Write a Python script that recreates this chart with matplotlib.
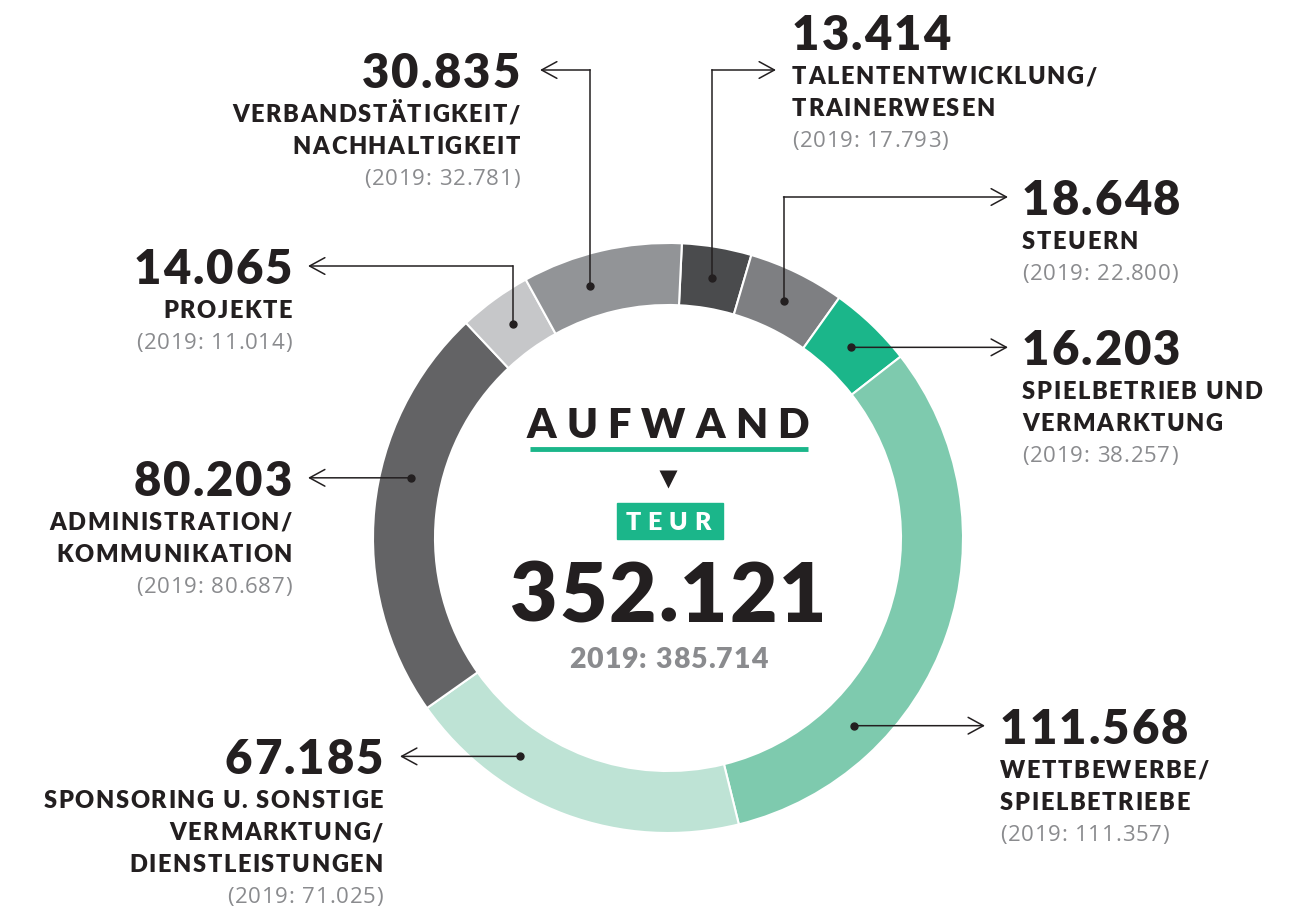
import numpy as np
import matplotlib
matplotlib.use("Agg")
import matplotlib.pyplot as plt

plt.rcParams['font.family'] = ['Lato', 'DejaVu Sans']

# ── data ──
values = [13414, 18648, 16203, 111568, 67185, 80203, 14065, 30835]
values_2019 = [17793, 22800, 38257, 111357, 71025, 80687, 11014, 32781]
labels = [["TALENTENTWICKLUNG/", "TRAINERWESEN"],
          ["STEUERN"],
          ["SPIELBETRIEB UND", "VERMARKTUNG"],
          ["WETTBEWERBE/", "SPIELBETRIEBE"],
          ["SPONSORING U. SONSTIGE", "VERMARKTUNG/", "DIENSTLEISTUNGEN"],
          ["ADMINISTRATION/", "KOMMUNIKATION"],
          ["PROJEKTE"],
          ["VERBANDSTÄTIGKEIT/", "NACHHALTIGKEIT"]]
colors = ["#4a4b4d", "#7e7f82", "#1bb68a", "#7ecaae", "#bee3d5", "#636365", "#c6c7c9", "#929497"]
total_2019 = 385714

def de(n):
    return f"{n:,}".replace(",", ".")

# ── layout (pixel coords, y down) ──
W, H = 1306, 908
CX, CY, R, RING = 668, 538, 295, 62
GREEN = "#1bb68a"
DARK = "#231f20"
GREY = "#8a8b8e"
# dot position inside wedge (0=start,1=end), connector, line y, arrow tip x, text x, side, number above line?
layout = [
    (0.50, "v", 70, 776, 792, "right", True),
    (0.50, "v", 197, 1008, 1022, "right", False),
    (0.50, "h", None, 1008, 1022, "right", False),
    (0.73, "h", None, 985, 1000, "right", False),
    (0.70, "h", None, 400, 383, "left", False),
    (0.59, "h", None, 308, 292, "left", False),
    (0.50, "v", 266, 308, 292, "left", False),
    (0.37, "v", 70, 540, 520, "left", False),
]

fig = plt.figure(figsize=(W / 100, H / 100), dpi=100)
ax = fig.add_axes([0, 0, 1, 1])
renderer = fig.canvas.get_renderer()

def tracked(x, y, s, track, ha="left", **kw):
    ts = [ax.text(0, y, ch, ha="left", va="center_baseline", **kw) for ch in s]
    ws = [t.get_window_extent(renderer).width for t in ts]
    tot = sum(ws) + track * (len(s) - 1)
    x0 = {"left": x, "right": x - tot, "center": x - tot / 2}[ha]
    for t, w_ in zip(ts, ws):
        t.set_x(x0)
        x0 += w_ + track

wedges, _ = ax.pie(values, colors=colors, startangle=-87.3, counterclock=True,
                   center=(CX, CY), radius=R,
                   wedgeprops=dict(width=RING, edgecolor="white", linewidth=1.5))
ax.set_xlim(0, W)
ax.set_ylim(H, 0)
ax.set_aspect("equal")
ax.axis("off")

rmid = R - RING / 2
for i, w in enumerate(wedges):
    frac, kind, ly, tipx, tx, side, above = layout[i]
    ang = np.deg2rad(w.theta1 + frac * (w.theta2 - w.theta1))
    dx, dy = CX + rmid * np.cos(ang), CY + rmid * np.sin(ang)
    ax.plot(dx, dy, "o", color=DARK, ms=5, zorder=5)
    if kind == "v":
        ax.plot([dx, dx], [dy, ly], color=DARK, lw=1.1)
        start = (dx, ly)
    else:
        ly = dy
        start = (dx, dy)
    ax.annotate("", xy=(tipx, ly), xytext=start,
                arrowprops=dict(arrowstyle="->,head_length=0.55,head_width=0.3",
                                color=DARK, lw=1.1, shrinkA=0, shrinkB=0, mutation_scale=20))
    ha = "left" if side == "right" else "right"
    ny = ly - 38 if above else ly
    tracked(tx, ny, de(values[i]), 2, ha=ha, fontsize=34, fontweight="heavy", color=DARK)
    yy = ly + 5 if above else ny + 43
    for line in labels[i]:
        tracked(tx, yy, line, 1.6, ha=ha, fontsize=17, fontweight="heavy", color=DARK)
        yy += 32
    tracked(tx, yy, f"(2019: {de(values_2019[i])})", 0.8, ha=ha,
            fontsize=16, family=["Open Sans", "DejaVu Sans"], fontweight="normal", color=GREY)

# ── centre block ──
tracked(CX, 423, "AUFWAND", 10, ha="center", fontsize=30, fontweight="heavy", color=DARK)
ax.plot([530, 808], [449, 449], color=GREEN, lw=3.5, solid_capstyle="butt")
ax.plot(CX, 479, marker="v", color=DARK, ms=13, mec="none")
ax.add_patch(plt.Rectangle((617, 503), 106, 36, color=GREEN))
tracked(CX, 521, "TEUR", 7, ha="center", fontsize=18, fontweight="heavy", color="white")
tracked(CX, 591, de(sum(values)), 2, ha="center", fontsize=59, fontweight="heavy", color=DARK)
tracked(CX, 658, f"2019: {de(total_2019)}", 1, ha="center", fontsize=20.5,
        fontweight="heavy", color=GREY)

fig.savefig("out.png", dpi=100)
